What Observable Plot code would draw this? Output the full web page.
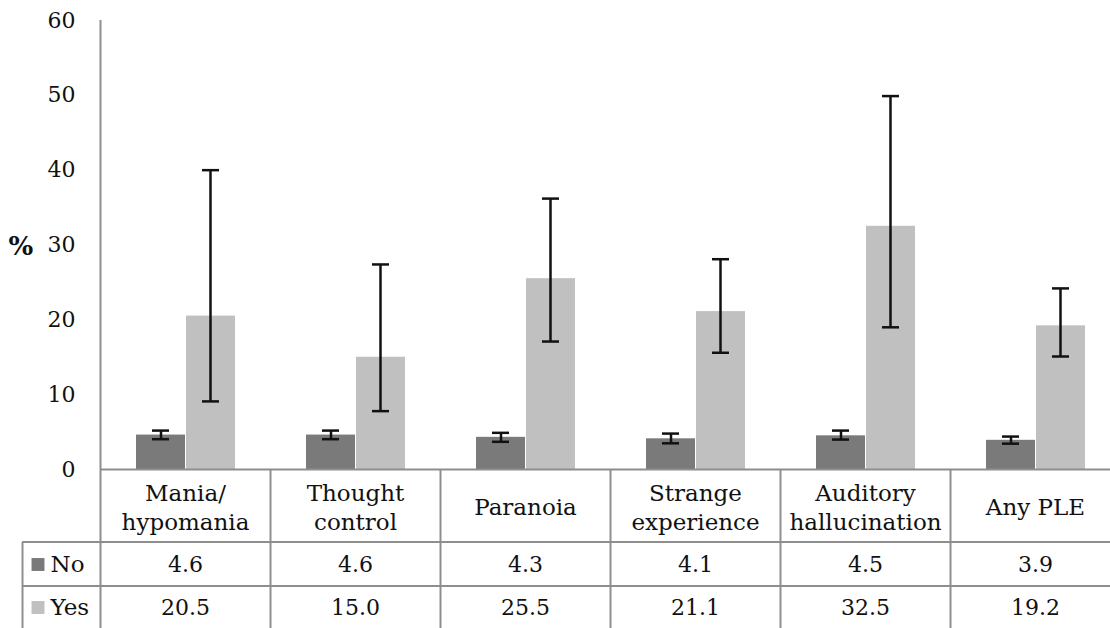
<!DOCTYPE html>
<html>
<head>
<meta charset="utf-8">
<script src="https://cdn.jsdelivr.net/npm/d3@7"></script>
<script src="https://cdn.jsdelivr.net/npm/@observablehq/plot@0.6"></script>
<style>
  html, body { margin: 0; padding: 0; background: #fff; }
  #chart svg { display: block; }
</style>
</head>
<body>
<div id="chart"></div>
<script>
// ---- data ----
const categories = ["Mania/\nhypomania", "Thought\ncontrol", "Paranoia", "Strange\nexperience", "Auditory\nhallucination", "Any PLE"];
const seriesNames = ["No", "Yes"];
const noValues  = [4.6, 4.6, 4.3, 4.1, 4.5, 3.9];
const noLow     = [4.05, 4.05, 3.7, 3.5, 4.0, 3.45];
const noHigh    = [5.2, 5.2, 4.9, 4.8, 5.2, 4.4];
const yesValues = [20.5, 15.0, 25.5, 21.1, 32.5, 19.2];
const yesLow    = [9.1, 7.8, 17.1, 15.6, 19.0, 15.1];
const yesHigh   = [40.0, 27.4, 36.2, 28.1, 49.9, 24.2];
const yTicks    = [0, 10, 20, 30, 40, 50, 60];
const yLabel    = "%";

// ---- tables built from the arrays ----
const noRows  = categories.map((c, i) => ({category: c, value: noValues[i],  low: noLow[i],  high: noHigh[i]}));
const yesRows = categories.map((c, i) => ({category: c, value: yesValues[i], low: yesLow[i], high: yesHigh[i]}));
const fmt = d3.format(".1f");

// ---- styles ----
const font = "DejaVu Serif";
const noColor = "#7a7a7a";
const yesColor = "#c0c0c0";
const lineColor = "#8e8e8e";
const half = 85;          // half of a category band (px)
const tableBottom = -159; // extend rules down into the table area

const chart = Plot.plot({
  width: 1110,
  height: 628,
  marginLeft: 100,
  marginRight: 0,
  marginTop: 20,
  marginBottom: 159,
  style: {fontFamily: font, fontSize: "22px", color: "#111", background: "#fff", overflow: "hidden"},
  x: {domain: categories, range: [100, 1120], padding: 0, axis: null},
  y: {domain: [0, 60], axis: null},
  marks: [
    // y axis tick labels
    Plot.axisY({ticks: yTicks, tickSize: 0, tickPadding: 25, label: null, fontSize: 22, tickFormat: d => d}),
    Plot.text([yLabel], {frameAnchor: "left", dx: -92, dy: 2, textAnchor: "start", fontSize: 26, fontWeight: "bold", fill: "#111"}),

    // bars
    Plot.barY(noRows,  {x: "category", y: "value", fill: noColor,  insetLeft: 36, insetRight: 85}),
    Plot.barY(yesRows, {x: "category", y: "value", fill: yesColor, insetLeft: 86, insetRight: 35}),

    // error bars
    Plot.ruleX(noRows,  {x: "category", y1: "low", y2: "high", dx: -24.5, stroke: "#111", strokeWidth: 2.5}),
    Plot.ruleX(yesRows, {x: "category", y1: "low", y2: "high", dx: 25, stroke: "#111", strokeWidth: 2.5}),
    Plot.tickY(noRows,  {x: "category", y: "low",  insetLeft: 52, insetRight: 101, stroke: "#111", strokeWidth: 2.5}),
    Plot.tickY(noRows,  {x: "category", y: "high", insetLeft: 52, insetRight: 101, stroke: "#111", strokeWidth: 2.5}),
    Plot.tickY(yesRows, {x: "category", y: "low",  insetLeft: 102, insetRight: 51, stroke: "#111", strokeWidth: 2.5}),
    Plot.tickY(yesRows, {x: "category", y: "high", insetLeft: 102, insetRight: 51, stroke: "#111", strokeWidth: 2.5}),

    // y axis line (full height) and table vertical lines
    Plot.ruleX([categories[0]], {x: d => d, dx: -half, stroke: lineColor, strokeWidth: 2, insetBottom: tableBottom}),
    Plot.ruleX(categories.slice(1), {x: d => d, dx: -half, stroke: lineColor, strokeWidth: 2, insetTop: 449, insetBottom: tableBottom}),
    Plot.ruleX([categories[0]], {x: d => d, dx: -half - 78, stroke: lineColor, strokeWidth: 2, insetTop: 522, insetBottom: tableBottom}),

    // horizontal lines: x axis and table rows
    Plot.ruleY([0], {stroke: lineColor, strokeWidth: 2}),
    Plot.ruleY([0], {dy: 72.5, stroke: lineColor, strokeWidth: 2, insetLeft: -78}),
    Plot.ruleY([0], {dy: 116.5, stroke: lineColor, strokeWidth: 2, insetLeft: -78}),

    // category labels row
    Plot.text(categories, {x: d => d, text: d => d, frameAnchor: "bottom", dy: 37, lineAnchor: "middle", lineHeight: 1.22, fontSize: 23, fill: "#111"}),

    // data table rows
    Plot.text(noRows,  {x: "category", text: d => fmt(d.value), frameAnchor: "bottom", dy: 95,  lineAnchor: "middle", fontSize: 22, fill: "#111"}),
    Plot.text(yesRows, {x: "category", text: d => fmt(d.value), frameAnchor: "bottom", dy: 138, lineAnchor: "middle", fontSize: 22, fill: "#111"}),

    // row headers with swatches
    Plot.dot([seriesNames[0]], {x: () => categories[0], frameAnchor: "bottom", dx: -147.5, dy: 95,  symbol: "square", r: 7.3, fill: noColor}),
    Plot.dot([seriesNames[1]], {x: () => categories[0], frameAnchor: "bottom", dx: -147.5, dy: 138, symbol: "square", r: 7.3, fill: yesColor}),
    Plot.text([seriesNames[0]], {x: () => categories[0], text: d => d, frameAnchor: "bottom", dx: -135, dy: 95,  textAnchor: "start", lineAnchor: "middle", fontSize: 23, fill: "#111"}),
    Plot.text([seriesNames[1]], {x: () => categories[0], text: d => d, frameAnchor: "bottom", dx: -135, dy: 138, textAnchor: "start", lineAnchor: "middle", fontSize: 23, fill: "#111"})
  ]
});

document.getElementById("chart").appendChild(chart);
</script>
</body>
</html>
